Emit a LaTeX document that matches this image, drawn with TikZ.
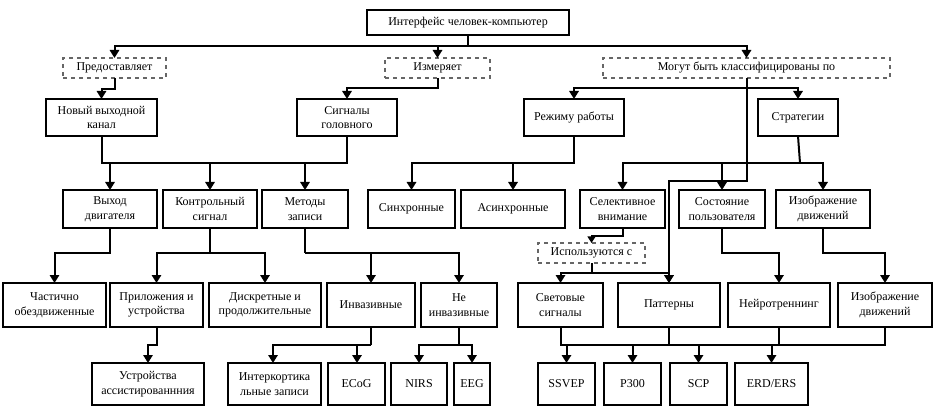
\documentclass[tikz,border=0pt]{standalone}
\usepackage{fontspec}
\setmainfont{Liberation Serif}
\usetikzlibrary{arrows.meta}
\begin{document}
\begin{tikzpicture}[x=0.75pt,y=-0.75pt,
  every node/.style={inner sep=0pt,outer sep=0pt,align=center,font=\fontsize{9}{11}\selectfont},
  box/.style={draw,line width=1.5pt},
  dbox/.style={draw=gray!80!black,dashed,line width=0.8pt},
  ln/.style={line width=1.5pt},
  arr/.style={line width=1.5pt,-{Triangle[width=7pt,length=6pt]}}]
\useasboundingbox (0,0) rectangle (938,420);
\newcommand\B[7]{\node[#1,minimum width={(#5-#3)*0.75pt},minimum height={(#6-#4)*0.75pt}] (#2) at ({(#3+#5)/2},{(#4+#6)/2}) {#7};}
\B{box}{root}{367}{10}{569}{35}{Интерфейс человек-компьютер}
\B{dbox}{pred}{63}{58}{166}{78}{Предоставляет}
\B{dbox}{izm}{385}{58}{490}{78}{Измеряет}
\B{dbox}{mog}{603}{58}{890}{78}{Могут быть классифицированы по}
\B{box}{novy}{46}{99}{157}{136}{Новый выходной\\канал}
\B{box}{sig}{297}{99}{397}{136}{Сигналы\\головного}
\B{box}{rez}{524}{99}{624}{136}{Режиму работы}
\B{box}{str}{758}{99}{838}{136}{Стратегии}
\B{box}{vyh}{63}{190}{157}{228}{Выход\\двигателя}
\B{box}{kon}{163}{190}{257}{228}{Контрольный\\сигнал}
\B{box}{met}{262}{190}{348}{228}{Методы\\записи}
\B{box}{sin}{368}{190}{455}{228}{Синхронные}
\B{box}{asin}{461}{190}{565}{228}{Асинхронные}
\B{box}{sel}{580}{190}{665}{228}{Селективное\\внимание}
\B{box}{sos}{679}{190}{765}{228}{Состояние\\пользователя}
\B{box}{izo}{776}{190}{870}{228}{Изображение\\движений}
\B{dbox}{isp}{538}{243}{645}{263}{Используются с}
\B{box}{cha}{3}{283}{106}{327}{Частично\\обездвиженные}
\B{box}{pri}{110}{283}{203}{327}{Приложения и\\устройства}
\B{box}{dis}{209}{283}{321}{327}{Дискретные и\\продолжительные}
\B{box}{inv}{327}{283}{415}{327}{Инвазивные}
\B{box}{ninv}{421}{283}{497}{327}{Не\\инвазивные}
\B{box}{svet}{518}{283}{603}{327}{Световые\\сигналы}
\B{box}{pat}{618}{283}{720}{327}{Паттерны}
\B{box}{nei}{728}{283}{830}{327}{Нейротреннинг}
\B{box}{izo2}{838}{283}{932}{327}{Изображение\\движений}
\B{box}{ust}{92}{363}{204}{405}{Устройства\\ассистированнния}
\B{box}{intk}{228}{363}{321}{405}{Интеркортика\\льные записи}
\B{box}{ecog}{328}{363}{385}{405}{ECoG}
\B{box}{nirs}{391}{363}{447}{405}{NIRS}
\B{box}{eeg}{454}{363}{490}{405}{EEG}
\B{box}{ssvep}{538}{363}{595}{405}{SSVEP}
\B{box}{p300}{604}{363}{661}{405}{P300}
\B{box}{scp}{670}{363}{727}{405}{SCP}
\B{box}{erd}{735}{363}{808}{405}{ERD/ERS}
% root
\coordinate (j0) at (468,46);
\draw[ln] (root.south) -- (j0);
\draw[arr] (j0) -| (pred.north);
\draw[arr] (j0) -| (izm.north);
\draw[arr] (j0) -| (mog.north);
\draw[arr] (pred.south) -- ++(0,11) -| (novy.north);
\draw[arr] (izm.south) -- ++(0,10) -| (sig.north);
% mog
\coordinate (j1) at (746.5,88);
\draw[ln] (mog.south) -- (j1);
\draw[arr] (j1) -| (rez.north);
\draw[arr] (j1) -| (str.north);
\draw[arr] (j1) -- (746.5,181) -| (pat.north);
% novy/sig
\coordinate (j2) at (101.5,163);
\draw[ln] (novy.south) -- (j2) -| (sig.south);
\draw[arr] (vyh.north |- j2) -- (vyh.north);
\draw[arr] (kon.north |- j2) -- (kon.north);
\draw[arr] (met.north |- j2) -- (met.north);
% rezhim
\draw[arr] (rez.south) |- (411.5,163) -- (sin.north);
\draw[arr] (rez.south) |- (513,163) -- (asin.north);
% strategii
\coordinate (j3) at (800,163);
\draw[ln] (str.south) -- (j3);
\draw[arr] (j3) -| (sel.north);
\draw[arr] (j3) -| (sos.north);
\draw[arr] (j3) -| (izo.north);
% sel -> isp
\draw[line width=1.5pt,-{Triangle[width=6pt,length=5pt]}] (sel.south) -- ++(0,8) -| (isp.north);
\coordinate (j4) at (591.5,273);
\draw[ln] (isp.south) -- (j4);
\draw[arr] (j4) -| (svet.north);
\draw[arr] (j4) -| (pat.north);
\draw[arr] (sos.south) -- ++(0,25) -| (nei.north);
\draw[arr] (izo.south) -- ++(0,25) -| (izo2.north);
% row2
\draw[arr] (vyh.south) -- ++(0,25) -| (cha.north);
\coordinate (j5) at (210,253);
\draw[ln] (kon.south) -- (j5);
\draw[arr] (j5) -| (pri.north);
\draw[arr] (j5) -| (dis.north);
\coordinate (j6) at (305,253);
\draw[ln] (met.south) -- (j6);
\draw[arr] (j6) -| (inv.north);
\draw[arr] (j6) -| (ninv.north);
% row3
\draw[arr] (pri.south) -- ++(0,18) -| (148,363);
\coordinate (j7) at (371,345);
\draw[ln] (inv.south) -- (j7);
\draw[arr] (j7) -| (273,363);
\draw[arr] (j7) -| (357,363);
\coordinate (j8) at (459,345);
\draw[ln] (ninv.south) -- (j8);
\draw[arr] (j8) -| (419,363);
\draw[arr] (j8) -| (472,363);
\coordinate (j9) at (560.5,345);
\draw[ln] (svet.south) -- (j9) -| (izo2.south);
\draw[ln] (pat.south) -- (pat.south |- j9);
\draw[ln] (nei.south) -- (nei.south |- j9);
\draw[arr] (566.5,345) -- (ssvep.north);
\draw[arr] (632.5,345) -- (p300.north);
\draw[arr] (698.5,345) -- (scp.north);
\draw[arr] (771.5,345) -- (erd.north);
\end{tikzpicture}
\end{document}
